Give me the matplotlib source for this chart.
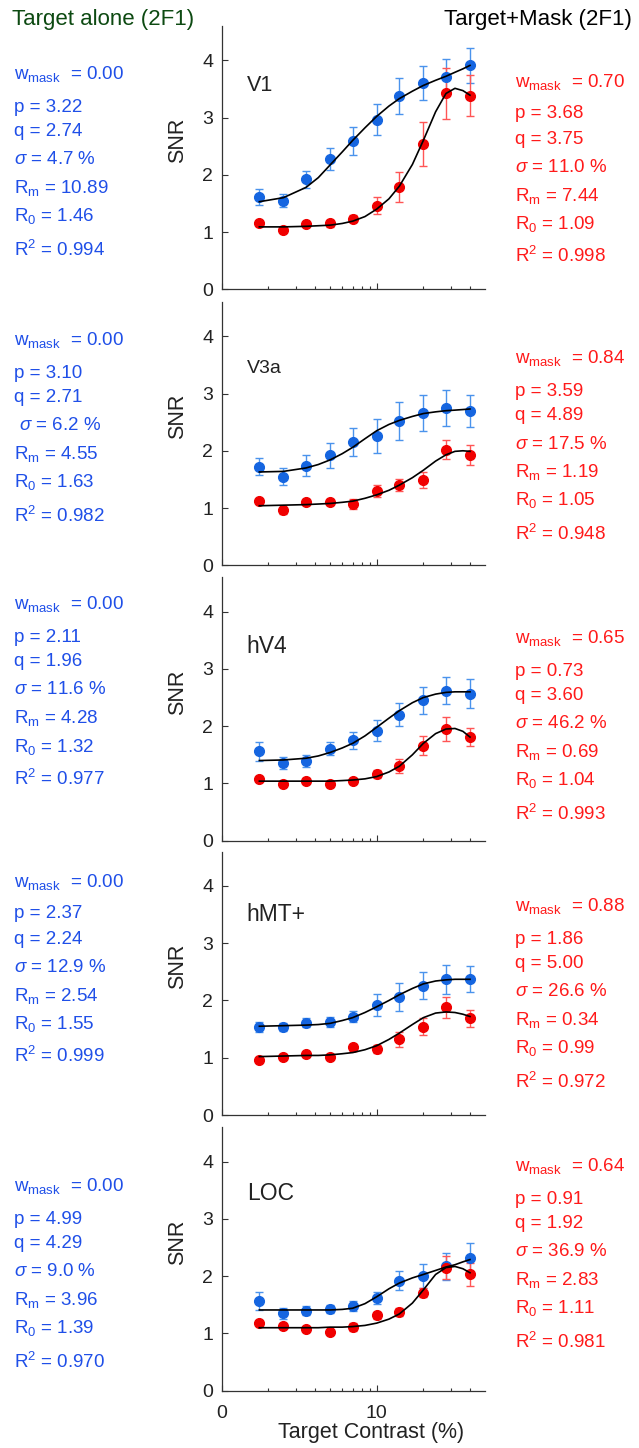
import matplotlib
matplotlib.use('Agg')
import matplotlib.pyplot as plt
from matplotlib.ticker import FixedLocator, NullFormatter

plt.rcParams['font.family'] = ['Liberation Sans', 'DejaVu Sans']
plt.rcParams['mathtext.fontset'] = 'custom'
plt.rcParams['mathtext.rm'] = 'Liberation Sans'
plt.rcParams['mathtext.it'] = 'Liberation Sans:italic'
plt.rcParams['mathtext.bf'] = 'Liberation Sans:bold'

# ---------------- data ----------------
regions = ['V1', 'V3a', 'hV4', 'hMT+', 'LOC']
contrast = [1.75, 2.5, 3.5, 5, 7, 10, 14, 20, 28, 40]

alone_snr = {
    'V1':   [1.61, 1.55, 1.92, 2.27, 2.59, 2.96, 3.38, 3.60, 3.71, 3.91],
    'V3a':  [1.72, 1.55, 1.74, 1.92, 2.15, 2.26, 2.52, 2.66, 2.75, 2.70],
    'hV4':  [1.56, 1.36, 1.39, 1.61, 1.75, 1.92, 2.20, 2.45, 2.62, 2.57],
    'hMT+': [1.54, 1.54, 1.61, 1.63, 1.72, 1.92, 2.06, 2.26, 2.37, 2.37],
    'LOC':  [1.57, 1.35, 1.40, 1.43, 1.48, 1.62, 1.92, 2.00, 2.17, 2.32],
}
alone_err = {
    'V1':   [0.14, 0.12, 0.15, 0.19, 0.24, 0.27, 0.31, 0.30, 0.32, 0.31],
    'V3a':  [0.15, 0.15, 0.18, 0.22, 0.24, 0.30, 0.33, 0.31, 0.31, 0.28],
    'hV4':  [0.16, 0.10, 0.11, 0.12, 0.15, 0.18, 0.20, 0.24, 0.24, 0.25],
    'hMT+': [0.09, 0.07, 0.08, 0.09, 0.10, 0.19, 0.24, 0.24, 0.25, 0.23],
    'LOC':  [0.16, 0.10, 0.08, 0.07, 0.08, 0.10, 0.17, 0.21, 0.23, 0.26],
}
mask_snr = {
    'V1':   [1.15, 1.04, 1.14, 1.15, 1.23, 1.46, 1.79, 2.54, 3.42, 3.38],
    'V3a':  [1.13, 0.96, 1.10, 1.10, 1.07, 1.30, 1.40, 1.49, 2.02, 1.93],
    'hV4':  [1.08, 0.99, 1.05, 0.99, 1.05, 1.16, 1.30, 1.66, 1.95, 1.81],
    'hMT+': [0.96, 1.02, 1.06, 1.02, 1.18, 1.15, 1.32, 1.54, 1.88, 1.69],
    'LOC':  [1.19, 1.13, 1.07, 1.02, 1.12, 1.32, 1.37, 1.71, 2.15, 2.03],
}
mask_err = {
    'V1':   [0.05, 0.03, 0.04, 0.06, 0.06, 0.15, 0.26, 0.39, 0.44, 0.36],
    'V3a':  [0.03, 0.06, 0.05, 0.05, 0.09, 0.10, 0.11, 0.14, 0.16, 0.17],
    'hV4':  [0.04, 0.04, 0.04, 0.05, 0.05, 0.07, 0.12, 0.16, 0.21, 0.15],
    'hMT+': [0.03, 0.04, 0.04, 0.05, 0.06, 0.07, 0.13, 0.15, 0.18, 0.15],
    'LOC':  [0.03, 0.03, 0.03, 0.03, 0.07, 0.06, 0.07, 0.08, 0.20, 0.20],
}

# fitted curves, sampled from the figure
fit_x = [1.75, 2.5, 3.5, 4.2, 5, 6, 7, 8.4, 10, 12, 14, 17, 20, 24, 28, 32, 36, 40]
alone_fit = {
    'V1':   [1.53, 1.60, 1.78, 1.95, 2.17, 2.40, 2.60, 2.82, 3.02, 3.20, 3.33, 3.46, 3.56, 3.65, 3.72, 3.79, 3.85, 3.91],
    'V3a':  [1.63, 1.64, 1.70, 1.76, 1.84, 1.95, 2.06, 2.21, 2.35, 2.46, 2.53, 2.60, 2.65, 2.68, 2.70, 2.71, 2.72, 2.73],
    'hV4':  [1.40, 1.41, 1.44, 1.48, 1.54, 1.62, 1.70, 1.83, 1.98, 2.14, 2.27, 2.41, 2.50, 2.56, 2.59, 2.60, 2.60, 2.60],
    'hMT+': [1.55, 1.56, 1.57, 1.58, 1.60, 1.65, 1.70, 1.79, 1.89, 2.00, 2.10, 2.21, 2.29, 2.34, 2.36, 2.37, 2.37, 2.37],
    'LOC':  [1.41, 1.41, 1.41, 1.41, 1.41, 1.42, 1.44, 1.52, 1.64, 1.78, 1.88, 1.97, 2.03, 2.10, 2.16, 2.20, 2.25, 2.29],
}
mask_fit = {
    'V1':   [1.09, 1.09, 1.10, 1.11, 1.12, 1.15, 1.19, 1.27, 1.40, 1.58, 1.80, 2.18, 2.60, 3.10, 3.42, 3.51, 3.47, 3.39],
    'V3a':  [1.04, 1.05, 1.06, 1.07, 1.08, 1.10, 1.12, 1.17, 1.23, 1.31, 1.40, 1.53, 1.66, 1.82, 1.93, 1.99, 2.00, 1.99],
    'hV4':  [1.04, 1.04, 1.04, 1.04, 1.04, 1.05, 1.06, 1.08, 1.12, 1.20, 1.30, 1.50, 1.70, 1.87, 1.95, 1.96, 1.91, 1.81],
    'hMT+': [1.02, 1.03, 1.04, 1.04, 1.05, 1.07, 1.09, 1.14, 1.21, 1.32, 1.43, 1.58, 1.70, 1.78, 1.80, 1.79, 1.76, 1.72],
    'LOC':  [1.10, 1.10, 1.10, 1.10, 1.11, 1.11, 1.12, 1.14, 1.18, 1.25, 1.34, 1.53, 1.76, 2.03, 2.15, 2.17, 2.13, 2.06],
}

# fit parameters: w_mask, p, q, sigma, Rm, R0, R2
alone_params = {
    'V1':   ['0.00', '3.22', '2.74', '4.7', '10.89', '1.46', '0.994'],
    'V3a':  ['0.00', '3.10', '2.71', '6.2', '4.55', '1.63', '0.982'],
    'hV4':  ['0.00', '2.11', '1.96', '11.6', '4.28', '1.32', '0.977'],
    'hMT+': ['0.00', '2.37', '2.24', '12.9', '2.54', '1.55', '0.999'],
    'LOC':  ['0.00', '4.99', '4.29', '9.0', '3.96', '1.39', '0.970'],
}
mask_params = {
    'V1':   ['0.70', '3.68', '3.75', '11.0', '7.44', '1.09', '0.998'],
    'V3a':  ['0.84', '3.59', '4.89', '17.5', '1.19', '1.05', '0.948'],
    'hV4':  ['0.65', '0.73', '3.60', '46.2', '0.69', '1.04', '0.993'],
    'hMT+': ['0.88', '1.86', '5.00', '26.6', '0.34', '0.99', '0.972'],
    'LOC':  ['0.64', '0.91', '1.92', '36.9', '2.83', '1.11', '0.981'],
}

# ---------------- layout / style ----------------
W, H = 639, 1448
BLUE = '#1565e0'
BLUE_ERR = '#4a93ec'
RED = '#f00000'
RED_ERR = '#ff5555'
TXT_BLUE = '#1f4fe8'
TXT_RED = '#ff1a1a'
GREEN = '#0d4a12'

ax_left, ax_w, ax_h = 221.7, 263.3, 263.4
ax_bottoms = [289.3, 565.3, 840.7, 1115.0, 1390.7]
label_sizes = [15.5, 14, 16.5, 16.5, 16.5]
label_y = [3.56, 3.44, 3.40, 3.51, 3.45]
left_txt_y = [73, 339, 603, 880, 1185]
right_txt_y = [80, 357, 637, 905, 1165]
line_off = [0, 32, 57, 85, 114, 142, 176]

fig = plt.figure(figsize=(W / 100, H / 100), dpi=100)

def param_lines(pr, sigma_prefix=''):
    return [
        r'w$_{\mathregular{mask}}$  = ' + pr[0],
        'p = ' + pr[1],
        'q = ' + pr[2],
        sigma_prefix + r'$\sigma$ = ' + pr[3] + ' %',
        r'R$_{\mathregular{m}}$ = ' + pr[4],
        r'R$_{\mathregular{0}}$ = ' + pr[5],
        r'R$^{\mathregular{2}}$ = ' + pr[6],
    ]

for i, reg in enumerate(regions):
    b = ax_bottoms[i]
    ax = fig.add_axes([ax_left / W, 1 - b / H, ax_w / W, ax_h / H])
    ax.set_xscale('log')

    ax.errorbar(contrast, alone_snr[reg], yerr=alone_err[reg], fmt='none',
                ecolor=BLUE_ERR, elinewidth=1.0, capsize=2.6, capthick=1.0, zorder=2)
    ax.errorbar(contrast, mask_snr[reg], yerr=mask_err[reg], fmt='none',
                ecolor=RED_ERR, elinewidth=1.0, capsize=2.6, capthick=1.0, zorder=2)
    ax.plot(contrast, alone_snr[reg], 'o', color=BLUE, ms=7.0, mec=BLUE, zorder=3)
    ax.plot(contrast, mask_snr[reg], 'o', color=RED, ms=7.0, mec=RED, zorder=3)
    ax.plot(fit_x, alone_fit[reg], '-', color='black', lw=1.2, zorder=4)
    ax.plot(fit_x, mask_fit[reg], '-', color='black', lw=1.2, zorder=4)

    ax.set_xlim(1, 50)
    ax.set_ylim(0, 4.6)
    ax.set_yticks([0, 1, 2, 3, 4])
    ax.set_xticks([1, 10])
    ax.xaxis.set_minor_locator(FixedLocator([2, 3, 4, 5, 6, 7, 8, 9, 20, 30, 40]))
    ax.xaxis.set_minor_formatter(NullFormatter())
    if i == len(regions) - 1:
        ax.set_xticklabels(['0', '10'])
        ax.set_xlabel('Target Contrast (%)', fontsize=15.5, color='#222222', va='center')
        ax.xaxis.set_label_coords(0.567, -0.16)
    else:
        ax.set_xticklabels(['', ''])

    ax.tick_params(axis='both', which='both', direction='in', colors='#333333',
                   labelcolor='#222222', width=0.8)
    ax.tick_params(axis='both', which='major', length=4, labelsize=14)
    ax.tick_params(axis='y', pad=6)
    ax.tick_params(axis='x', pad=10)
    ax.tick_params(axis='x', which='minor', length=2.5)
    for s in ['top', 'right']:
        ax.spines[s].set_visible(False)
    for s in ['left', 'bottom']:
        ax.spines[s].set_color('#333333')
        ax.spines[s].set_linewidth(0.9)

    ax.set_ylabel('SNR', fontsize=15.5, color='#222222', va='center')
    ax.yaxis.set_label_coords(-0.166, 0.565)

    ax.text(1.45, label_y[i], reg, fontsize=label_sizes[i], color='#222222',
            ha='left', va='center')

    # parameter text
    lp = param_lines(alone_params[reg], ' ' if reg == 'V3a' else '')
    rp = param_lines(mask_params[reg])
    for k in range(7):
        fig.text(14 / W, 1 - (left_txt_y[i] + line_off[k] + 6.5) / H, lp[k],
                 color=TXT_BLUE, fontsize=13.5, ha='left', va='baseline')
        fig.text(515 / W, 1 - (right_txt_y[i] + line_off[k] + 6.5) / H, rp[k],
                 color=TXT_RED, fontsize=13.5, ha='left', va='baseline')

fig.text(12 / W, 1 - 20 / H, 'Target alone (2F1)', color=GREEN, fontsize=16,
         ha='left', va='center')
fig.text(632 / W, 1 - 20 / H, 'Target+Mask (2F1)', color='black', fontsize=16,
         ha='right', va='center')

fig.savefig('out.png', dpi=100)
